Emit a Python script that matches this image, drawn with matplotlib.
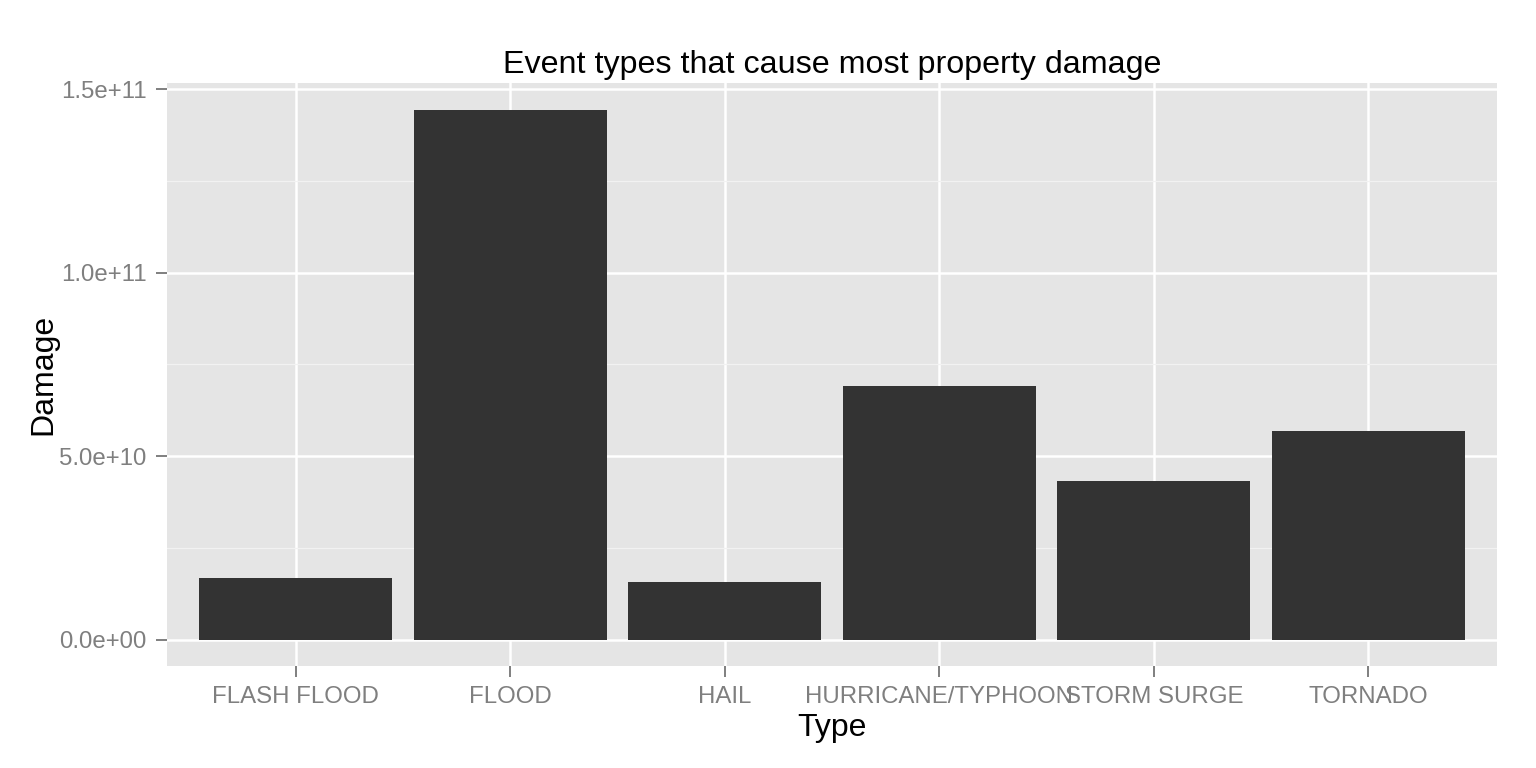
import matplotlib
matplotlib.use("Agg")
import matplotlib.pyplot as plt
from matplotlib.ticker import FuncFormatter, MultipleLocator

# data
event_types = ["FLASH FLOOD", "FLOOD", "HAIL", "HURRICANE/TYPHOON", "STORM SURGE", "TORNADO"]
damage = [1.69e10, 1.445e11, 1.58e10, 6.91e10, 4.33e10, 5.69e10]
y_ticks = [0, 5e10, 1e11, 1.5e11]

plt.rcParams['font.family'] = ['Liberation Sans', 'DejaVu Sans']

W, H = 1536, 768
fig = plt.figure(figsize=(W / 100, H / 100), dpi=100)
# panel placement in pixels
left, right, top, bottom = 167, 1497, 83, 666
ax = fig.add_axes([left / W, 1 - bottom / H, (right - left) / W, (bottom - top) / H])

ax.set_facecolor('#E5E5E5')
for s in ax.spines.values():
    s.set_visible(False)

x = list(range(1, len(event_types) + 1))
ax.bar(x, damage, width=0.9, color='#333333', zorder=3)

# ggplot style expansion
ax.set_xlim(0.4, len(event_types) + 0.6)
ymax = max(damage)
ax.set_ylim(-0.05 * ymax, 1.05 * ymax)

ax.set_xticks(x)
ax.set_xticklabels(event_types)
ax.set_yticks(y_ticks)
ax.yaxis.set_minor_locator(MultipleLocator(2.5e10))
ax.yaxis.set_major_formatter(FuncFormatter(lambda v, p: f"{v:.1e}"))

ax.grid(which='major', color='white', linewidth=1.8, zorder=1)
ax.grid(which='minor', axis='y', color='#F2F2F2', linewidth=0.9, zorder=0)
ax.set_axisbelow(True)

ax.tick_params(which='major', length=8, width=1.4, color='#7F7F7F',
               labelcolor='#7F7F7F', labelsize=17.3, pad=6.5)
ax.tick_params(which='minor', length=0)

fig.text((left + right) / 2 / W, 1 - 73 / H, "Event types that cause most property damage",
         ha='center', va='baseline', fontsize=23.2, color='black')
fig.text((left + right) / 2 / W, 1 - 728 / H, "Type",
         ha='center', va='center', fontsize=23, color='black')
fig.text(43 / W, 1 - (top + bottom) / 2 / H, "Damage", rotation=90,
         ha='center', va='center', fontsize=23, color='black')

fig.savefig("out.png", dpi=100)
